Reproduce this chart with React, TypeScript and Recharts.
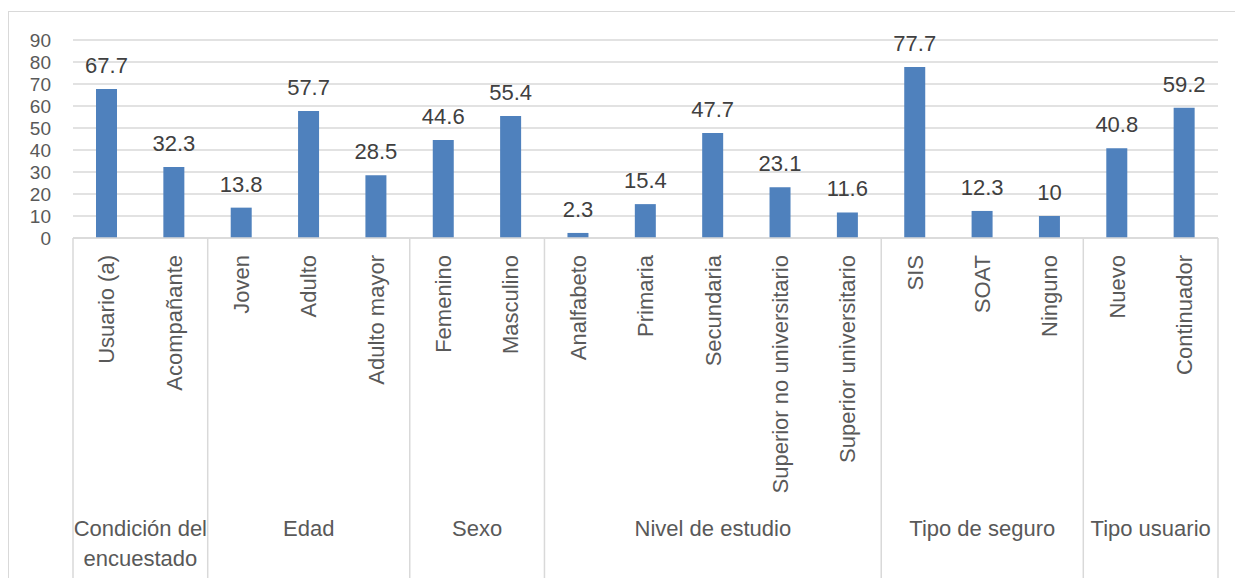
import React from "react"
import { BarChart, Bar, XAxis, YAxis, CartesianGrid, LabelList } from "recharts"

const categories = [
  "Usuario (a)", "Acompañante",
  "Joven", "Adulto", "Adulto mayor",
  "Femenino", "Masculino",
  "Analfabeto", "Primaria", "Secundaria", "Superior no universitario", "Superior universitario",
  "SIS", "SOAT", "Ninguno",
  "Nuevo", "Continuador",
]
const values = [67.7, 32.3, 13.8, 57.7, 28.5, 44.6, 55.4, 2.3, 15.4, 47.7, 23.1, 11.6, 77.7, 12.3, 10, 40.8, 59.2]
const groupLabels = [
  ["Condición del", "encuestado"],
  ["Edad"],
  ["Sexo"],
  ["Nivel de estudio"],
  ["Tipo de seguro"],
  ["Tipo usuario"],
]
const groupSizes = [2, 3, 2, 5, 3, 2]
const yTicks = [0, 10, 20, 30, 40, 50, 60, 70, 80, 90]

const W = 1227
const H = 567
const MARGIN = { top: 29, right: 17, left: 0, bottom: 0 }
const YAXIS_W = 65
const XAXIS_H = 340
const PLOT_W = W - MARGIN.left - MARGIN.right - YAXIS_W

const BAR = "#4F81BD"
const AXIS_TEXT = "#595959"
const LABEL_TEXT = "#404040"
const LINE = "#D9D9D9"
const FONT = "'Liberation Sans', Arial, sans-serif"
const FS = 22

const data = categories.map((name, i) => ({ name, value: values[i] }))

// first index of each group
const groupStarts: number[] = []
groupSizes.reduce((acc, n) => {
  groupStarts.push(acc)
  return acc + n
}, 0)

function CategoryTick(props: any) {
  const { x, y, index, payload } = props
  const band = PLOT_W / categories.length
  const g = groupStarts.indexOf(index)
  const isLast = index === categories.length - 1
  return (
    <g>
      <text
        x={x}
        y={y + 17}
        transform={`rotate(-90, ${x}, ${y + 17})`}
        textAnchor="end"
        dy="0.35em"
        fill={AXIS_TEXT}
        fontSize={FS}
        fontFamily={FONT}
      >
        {payload.value}
      </text>
      {g >= 0 && (
        <>
          <line x1={x - band / 2} x2={x - band / 2} y1={y} y2={y + XAXIS_H} stroke={LINE} strokeWidth={1.5} />
          {groupLabels[g].map((line, k) => (
            <text
              key={k}
              x={x - band / 2 + (groupSizes[g] * band) / 2}
              y={y + 290 + k * 30}
              textAnchor="middle"
              dy="0.35em"
              fill={AXIS_TEXT}
              fontSize={FS}
              fontFamily={FONT}
            >
              {line}
            </text>
          ))}
        </>
      )}
      {isLast && (
        <line x1={x + band / 2} x2={x + band / 2} y1={y} y2={y + XAXIS_H} stroke={LINE} strokeWidth={1.5} />
      )}
    </g>
  )
}

export default function App() {
  return (
    <div
      style={{
        position: "absolute",
        left: 8,
        top: 11,
        width: W,
        height: H,
        boxSizing: "border-box",
        borderTop: `1.5px solid ${LINE}`,
        borderLeft: `1.5px solid ${LINE}`,
        background: "#fff",
        fontFamily: FONT,
        overflow: "hidden",
      }}
    >
      <div style={{ position: "absolute", left: -1.5, top: -1.5 }}>
        <BarChart width={W} height={H} data={data} margin={MARGIN}>
          <CartesianGrid vertical={false} stroke={LINE} strokeWidth={1.5} />
          <XAxis
            dataKey="name"
            interval={0}
            height={XAXIS_H}
            tickLine={false}
            tickSize={0}
            tickMargin={0}
            axisLine={{ stroke: LINE, strokeWidth: 1.5 }}
            tick={<CategoryTick />}
          />
          <YAxis
            domain={[0, 90]}
            ticks={yTicks}
            interval={0}
            width={YAXIS_W}
            axisLine={false}
            tickLine={false}
            tickSize={0}
            tickMargin={22}
            tick={{ fill: AXIS_TEXT, fontSize: 19, fontFamily: FONT }}
          />
          <Bar dataKey="value" fill={BAR} barSize={21} isAnimationActive={false}>
            <LabelList
              dataKey="value"
              position="top"
              offset={16}
              fill={LABEL_TEXT}
              fontSize={FS}
              fontFamily={FONT}
            />
          </Bar>
        </BarChart>
      </div>
    </div>
  )
}
